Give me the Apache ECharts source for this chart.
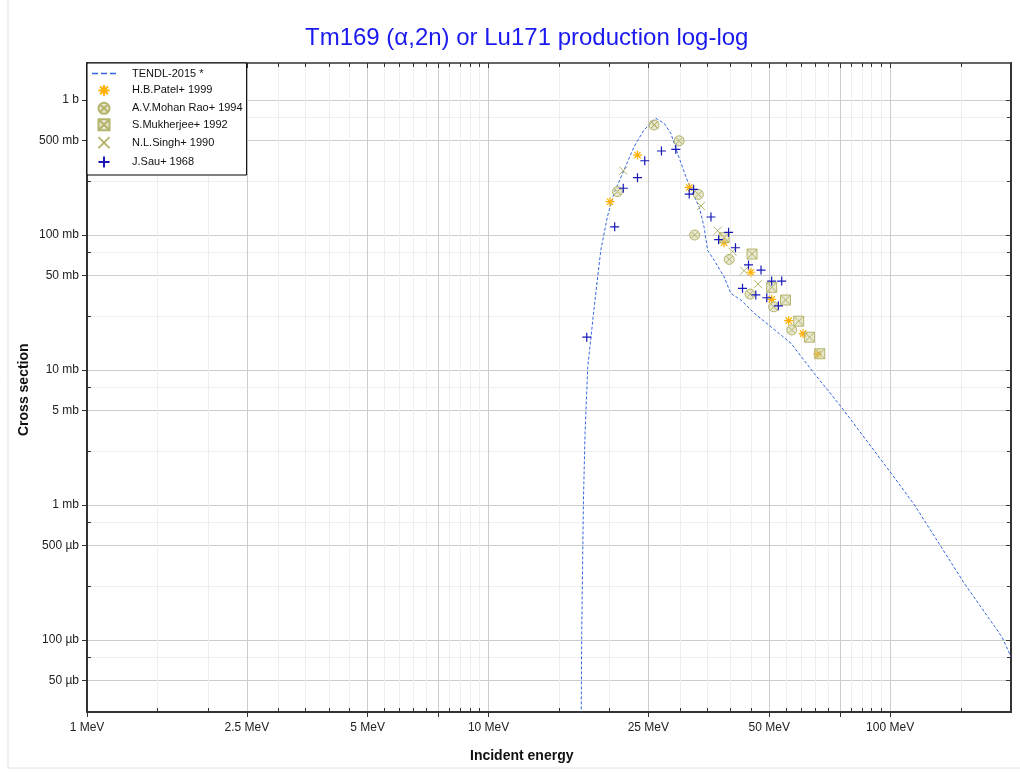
<!DOCTYPE html>
<html>
<head>
<meta charset="utf-8">
<script src="https://cdn.jsdelivr.net/npm/echarts@6/dist/echarts.min.js"></script>
<style>html,body{margin:0;padding:0;background:#fff}#c{width:1020px;height:773px}</style>
</head>
<body>
<div id="c"></div>
<script>
// ---- data (energy in MeV, cross section in mb) ----
const tendlE = [17.00, 17.06, 17.23, 17.39, 17.66, 18.41, 19.03, 19.77, 20.53, 21.75, 23.03, 24.39, 26.09, 27.37, 28.44, 29.55, 31.0, 32.52, 33.5, 34.4, 35.12, 36.47, 38.6, 40.1, 42.5, 45.9, 50.5, 56.6, 64.7, 75.5, 100.6, 115, 134, 153, 175, 190, 200];
const tendlS = [0.02, 0.113, 1.09, 3.41, 10.5, 33, 77, 137, 204, 303, 451, 600, 732, 672, 566, 403, 270, 192, 160, 115, 77, 65, 49, 37, 33, 26.3, 20.9, 15.8, 9.45, 5.34, 1.72, 1.0, 0.49, 0.263, 0.149, 0.105, 0.075];

const patelE = [20.07, 23.49, 31.6, 38.6, 45.0, 50.7, 55.9, 60.7, 66.0];
const patelS = [176.5, 391, 225, 87.7, 53, 33.4, 23.2, 18.6, 13.1];

const mohanE = [20.94, 25.83, 29.83, 32.6, 33.3, 39.75, 44.8, 51.3, 56.9];
const mohanS = [209.6, 653, 499, 100, 200, 66, 36.5, 29.4, 19.8];

const mukhE = [38.6, 45.3, 50.7, 54.9, 59.2, 63.0, 66.8];
const mukhS = [95.5, 72.3, 41, 33, 23, 17.5, 13.2];

const singhE = [21.65, 25.9, 33.8, 37.2, 40.5, 43.3, 46.9];
const singhS = [299.5, 655, 164, 107.6, 75.2, 54.4, 43.3];

const sauE = [17.56, 20.61, 21.65, 23.49, 24.49, 26.95, 29.26, 31.6, 32.4, 35.8, 37.4, 39.6, 41.2, 42.9, 44.4, 46.3, 47.7, 49.3, 50.7, 52.7, 53.7];
const sauS = [17.5, 115, 222, 266, 355, 419, 431, 201, 218, 136, 92.3, 104.7, 80.5, 40.3, 60, 36, 55, 34.3, 45.6, 29.9, 45.6];

const seriesNames = ['TENDL-2015 *', 'H.B.Patel+ 1999', 'A.V.Mohan Rao+ 1994', 'S.Mukherjee+ 1992', 'N.L.Singh+ 1990', 'J.Sau+ 1968'];

// tick values
const xMajor = [1, 2.5, 5, 7.5, 10, 25, 50, 75, 100];
const xLabels = [1, 2.5, 5, 10, 25, 50, 100];
const xMinor = [1.5, 2, 3, 3.5, 4, 4.5, 5.5, 6, 6.5, 7, 8, 8.5, 9, 9.5, 15, 20, 30, 35, 40, 45, 55, 60, 65, 70, 80, 85, 90, 95, 150];
const yMajor = [0.05, 0.1, 0.5, 1, 5, 10, 50, 100, 500, 1000];
const yLabels = [0.05, 0.1, 0.5, 1, 5, 10, 50, 100, 500, 1000];
const yMinor = [0.075, 0.25, 0.75, 2.5, 7.5, 25, 75, 250, 750];

const X_MIN = 1, X_MAX = 200, Y_MIN = 0.0293, Y_MAX = 1880;

// ---- helpers ----
const zip = (a, b) => a.map((v, i) => [v, b[i]]);
const FONT = '"Liberation Sans", Arial, sans-serif';
function fmtX(v) { return (+Number(v).toPrecision(3)) + ' MeV'; }
function fmtY(v) {
  v = Number(v);
  if (v >= 999) return (+(v / 1000).toPrecision(3)) + ' b';
  if (v >= 0.999) return (+v.toPrecision(3)) + ' mb';
  return Math.round(v * 1000) + ' µb';
}

const KHAKI = '#b4b46c';
const KHAKI_FILL = 'rgba(205,205,150,0.45)';
const SYM = {
  star: 'path://M5,0L5,10M0,5L10,5M1.5,1.5L8.5,8.5M1.5,8.5L8.5,1.5',
  circx: 'path://M10,5A5,5,0,1,1,0,5A5,5,0,1,1,10,5ZM1.6,1.6L8.4,8.4M1.6,8.4L8.4,1.6',
  sqx: 'path://M0,0L10,0L10,10L0,10ZM0,0L10,10M0,10L10,0',
  x: 'path://M0,0L10,10M0,10L10,0',
  plus: 'path://M5,0L5,10M0,5L10,5'
};
// dashed-line legend icon (filled dashes inside a 24x11 box)
const DASH_ICON = 'path://M0,0L0.01,0L0.01,0.01L0,0.01ZM23.99,10.99L24,10.99L24,11L23.99,11Z' +
  'M0,4.8L6,4.8L6,6.2L0,6.2ZM9,4.8L15,4.8L15,6.2L9,6.2ZM18,4.8L24,4.8L24,6.2L18,6.2Z';

function xAxisDef(pos, ticks, major, showLine) {
  return {
    type: 'log', logBase: 10, min: X_MIN, max: X_MAX, position: pos, gridIndex: 0,
    axisLine: { show: showLine, onZero: false, lineStyle: { color: '#333', width: pos === 'bottom' ? 2 : 1.5 } },
    axisTick: { show: true, customValues: ticks, inside: !(major && pos === 'bottom'), length: major ? 5 : 4,
      lineStyle: { color: '#333', width: 1 } },
    axisLabel: (pos === 'bottom' && major) ? { show: true, customValues: xLabels, formatter: fmtX,
      fontFamily: FONT, fontSize: 12, color: '#222', margin: 10 } : { show: false },
    splitLine: (pos === 'bottom') ? { show: true, lineStyle: { color: major ? '#cccccc' : '#eeeeee', width: 1 } } : { show: false },
    minorTick: { show: false }, minorSplitLine: { show: false }
  };
}
function yAxisDef(pos, ticks, major, showLine) {
  return {
    type: 'log', logBase: 10, min: Y_MIN, max: Y_MAX, position: pos, gridIndex: 0,
    axisLine: { show: showLine, onZero: false, lineStyle: { color: '#333', width: 2 } },
    axisTick: { show: true, customValues: ticks, inside: !(major && pos === 'left'), length: major ? 5 : 4,
      lineStyle: { color: '#333', width: 1 } },
    axisLabel: (pos === 'left' && major) ? { show: true, customValues: yLabels, formatter: fmtY,
      fontFamily: FONT, fontSize: 12, color: '#222', margin: 8 } : { show: false },
    splitLine: (pos === 'left') ? { show: true, lineStyle: { color: major ? '#cccccc' : '#eeeeee', width: 1 } } : { show: false },
    minorTick: { show: false }, minorSplitLine: { show: false }
  };
}

function scatter(name, e, s, sym, size, color, fill, width) {
  return {
    type: 'scatter', name: name, xAxisIndex: 0, yAxisIndex: 0,
    data: zip(e, s), symbol: sym, symbolSize: size, symbolKeepAspect: true,
    itemStyle: { color: fill, borderColor: color, borderWidth: width, opacity: 1 },
    emphasis: { disabled: true }, z: 3
  };
}

const legendData = seriesNames.map((n, i) => i === 0 ? { name: n, icon: DASH_ICON } : { name: n });

const chart = echarts.init(document.getElementById('c'), null, { renderer: 'canvas' });
chart.setOption({
  animation: false,
  backgroundColor: '#fff',
  title: {
    text: 'Tm169 (α,2n) or Lu171 production log-log',
    left: 300, top: 21,
    textStyle: { fontFamily: FONT, fontSize: 24, fontWeight: 'normal', color: '#1a1af0' }
  },
  grid: { left: 87, top: 63, right: 9, bottom: 61 },
  xAxis: [
    xAxisDef('bottom', xMinor, false, false),
    xAxisDef('bottom', xMajor, true, true),
    xAxisDef('top', xMinor, false, false),
    xAxisDef('top', xMajor, true, true)
  ],
  yAxis: [
    yAxisDef('left', yMinor, false, false),
    yAxisDef('left', yMajor, true, true),
    yAxisDef('right', yMinor, false, false),
    yAxisDef('right', yMajor, true, true)
  ],
  legend: {
    show: true, orient: 'vertical', left: 87, top: 63,
    itemWidth: 24, itemHeight: 11, itemGap: 3.4,
    padding: [5, 4, 5, 5],
    backgroundColor: '#fff', borderColor: '#000', borderWidth: 1, borderRadius: 0,
    textStyle: { fontFamily: FONT, fontSize: 11, color: '#111', padding: [0, 0, 0, 11] },
    data: legendData, selectedMode: false, z: 10
  },
  graphic: [
    { type: 'rect', shape: { x: 8, y: -2, width: 1020, height: 770 }, style: { fill: 'none', stroke: '#e2e2e2', lineWidth: 1 }, silent: true, z: -10 },
    { type: 'text', left: 470, top: 749, style: { text: 'Incident energy', font: 'bold 14px "Liberation Sans", Arial, sans-serif', fill: '#111' } },
    { type: 'text', x: 17, y: 436, rotation: Math.PI / 2, style: { text: 'Cross section', font: 'bold 14px "Liberation Sans", Arial, sans-serif', fill: '#111' } }
  ],
  series: [
    {
      type: 'line', name: seriesNames[0], xAxisIndex: 0, yAxisIndex: 0,
      data: zip(tendlE, tendlS), showSymbol: false, symbol: 'none', clip: true,
      lineStyle: { color: '#3366e0', width: 1, type: [3, 2] },
      itemStyle: { color: '#3366e0' }, emphasis: { disabled: true }, z: 2
    },
    scatter(seriesNames[1], patelE, patelS, SYM.star, 9, '#ffb000', 'none', 1.2),
    scatter(seriesNames[2], mohanE, mohanS, SYM.circx, 10, KHAKI, KHAKI_FILL, 1),
    scatter(seriesNames[3], mukhE, mukhS, SYM.sqx, 10, KHAKI, KHAKI_FILL, 1),
    scatter(seriesNames[4], singhE, singhS, SYM.x, 8, KHAKI, 'none', 1),
    scatter(seriesNames[5], sauE, sauS, SYM.plus, 9, '#1818b8', 'none', 1.2)
  ]
});
</script>
</body>
</html>
